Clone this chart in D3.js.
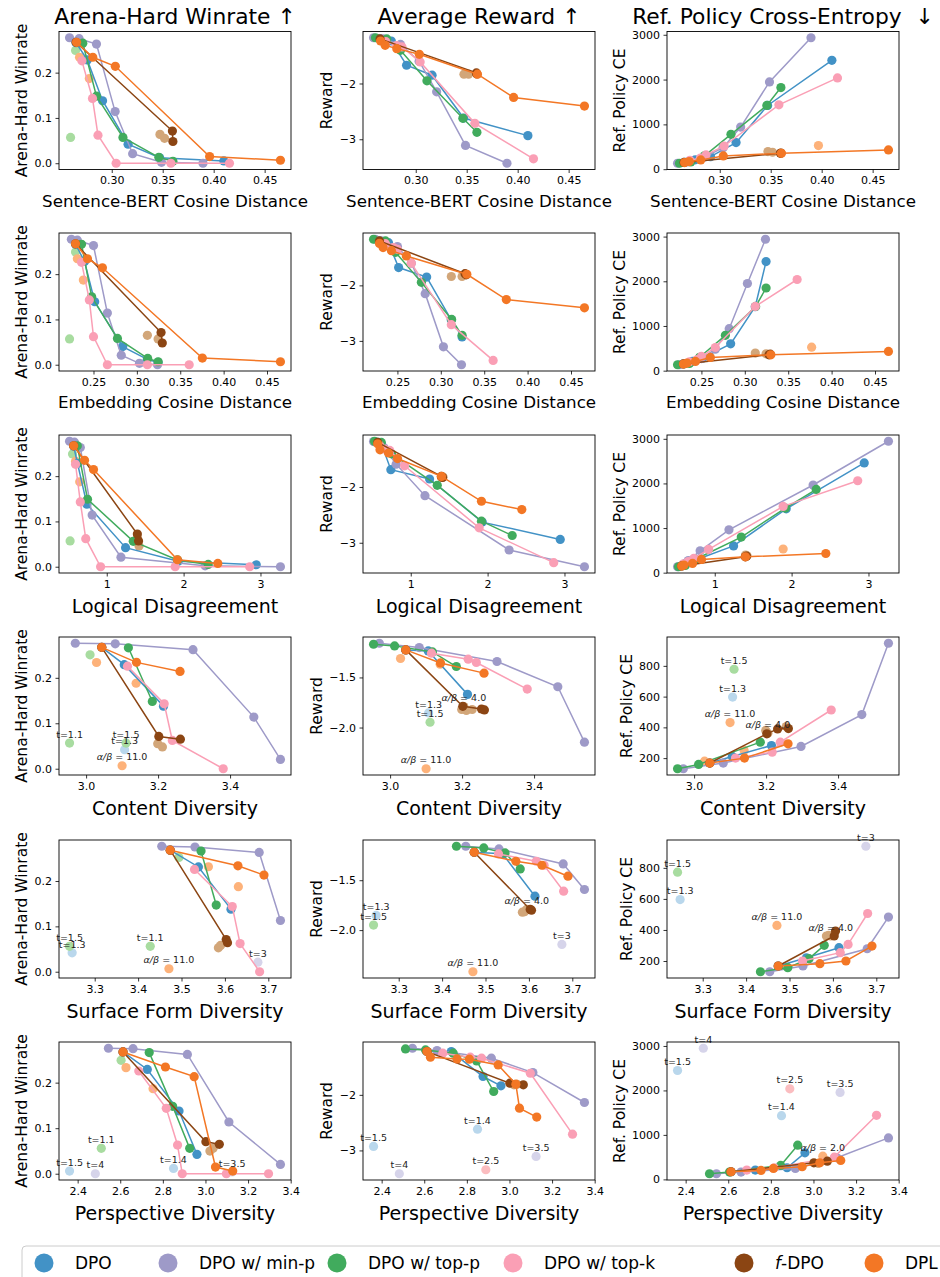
<!DOCTYPE html>
<html><head><meta charset="utf-8">
<script src="https://cdn.jsdelivr.net/npm/d3@7"></script>
<style>body{margin:0;background:#fff;} svg{display:block;font-family:"DejaVu Sans",sans-serif;} text{white-space:pre;}</style>
</head><body><svg id="c" width="940" height="1277"></svg>
<script>
// ---------------- data ----------------
const seriesNames = ["DPO", "DPO w/ min-p", "DPO w/ top-p", "DPO w/ top-k", "f-DPO", "DPL"];
const seriesColors = ["#4292c6", "#9e9ac8", "#41ab5d", "#fa9fb5", "#8b4513", "#f37725"];
const fadedColors = ["#b9d7ec", "#d6d4ea", "#a8dca0", "#fbbdc0", "#d2a679", "#fdb27a"];
const colTitles = ["Arena-Hard Winrate \u2191", "Average Reward \u2191", "Ref. Policy Cross-Entropy  \u2193"];
const colYLabels = ["Arena-Hard Winrate", "Reward", "Ref. Policy CE"];
const winTicks = [0.0, 0.1, 0.2];

// each point: [x, winrate, reward, ref-CE]; null = not drawn in that column
const sbertLines = [
  [[0.265,0.266,-1.20,150],[0.276,0.228,-1.238,210],[0.291,0.138,-1.673,280],[0.316,0.042,-1.851,593],[0.347,0.012,-2.62,1422],[0.410,0.005,-2.935,2430]],
  [[0.2586,0.277,-1.18,133],[0.268,0.275,-1.20,160],[0.285,0.263,-1.30,270],[0.3033,0.114,-1.60,480],[0.3205,0.021,-2.15,940],[0.3488,0.002,-3.11,1948],[0.3895,0.0,-3.43,2933]],
  [[0.2605,null,-1.18,133],[0.2716,0.265,-1.20,160],[0.285,0.148,-1.405,300],[0.311,0.057,-1.952,778],[0.3462,0.013,-2.625,1422],[0.360,0.0044,-2.875,1822]],
  [[0.2707,0.226,-1.25,200],[0.2811,0.143,-1.32,250],[0.2865,0.062,-1.345,318],[0.3043,0.0,-1.613,518],[0.358,0.0,-2.714,1437],[0.4155,0.0,-3.351,2037]],
  [[0.265,0.267,-1.20,150],[0.3595,0.071,-1.81,355],[0.3600,0.048,-1.83,360]],
  [[0.2655,0.267,-1.238,148],[0.2700,null,-1.315,170],[0.2814,0.234,-1.375,207],[0.3035,0.214,-1.476,296],[0.3605,null,-1.833,355],[0.3960,0.0147,-2.25,null],[0.4655,0.0066,-2.405,430]]
];
// faded: [series, x, winrate, reward, CE, label col1, label col2, label col3]
const sbertFaded = [
  [2,0.2645,0.249,null,null,"","",""],[2,0.2596,0.057,null,null,"","",""],
  [4,0.3473,0.0637,-1.833,393,"","",""],[4,0.3518,0.055,-1.833,378,"","",""],
  [5,0.2684,0.234,null,null,"","",""],[5,0.278,0.187,null,null,"","",""],[5,0.3968,null,null,526,"","",""]
];
const embedLines = [
  [[0.2293,0.266,-1.20,150],[0.2397,0.228,-1.232,210],[0.2514,0.139,-1.679,280],[0.2837,0.040,-1.851,600],[0.312,0.012,-2.62,1430],[0.3245,0.005,-2.929,2440]],
  [[0.2245,0.277,-1.17,133],[0.2314,0.275,-1.20,160],[0.250,0.263,-1.30,270],[0.266,0.114,-1.60,480],[0.282,0.021,-2.149,940],[0.303,0.003,-3.107,1950],[0.3238,0.0,-3.429,2940]],
  [[0.2225,null,-1.17,133],[0.2362,0.266,-1.20,160],[0.2479,0.150,-1.405,300],[0.2776,0.058,-1.946,790],[0.3125,0.014,-2.613,1437],[0.3245,0.0066,-2.90,1850]],
  [[0.2362,0.226,-1.25,200],[0.2452,0.143,-1.32,250],[0.250,0.062,-1.351,318],[0.266,0.0,-1.601,518],[0.3121,0.0,-2.708,1437],[0.3603,0.0,-3.351,2040]],
  [[0.2293,0.267,-1.20,150],[0.3279,0.071,-1.79,355],[0.3293,0.048,-1.81,370]],
  [[0.2293,0.267,-1.244,148],[0.2335,null,-1.32,170],[0.2431,0.234,-1.375,207],[0.2603,0.214,-1.47,296],[0.3300,null,-1.80,355],[0.3755,0.0147,-2.256,null],[0.4655,0.0066,-2.405,430]]
];
const embedFaded = [
  [2,0.2293,0.249,null,null,"","",""],[2,0.2224,0.057,null,null,"","",""],
  [4,0.3121,0.065,-1.84,393,"","",""],[4,0.3245,0.057,-1.84,378,"","",""],
  [5,0.2314,0.234,null,null,"","",""],[5,0.2383,0.187,null,null,"","",""],[5,0.377,null,null,526,"","",""]
];
const logicLines = [
  [[0.57,0.266,-1.20,150],[0.62,0.228,-1.235,210],[0.741,0.138,-1.69,280],[1.245,0.042,-1.857,600],[1.93,0.012,-2.63,1430],[2.945,0.0044,-2.94,2460]],
  [[0.516,0.277,-1.185,133],[0.58,0.275,-1.20,160],[0.656,0.263,-1.30,270],[0.81,0.114,-1.59,490],[1.185,0.021,-2.155,960],[2.28,0.002,-3.13,1965],[3.26,0.0,-3.43,2945]],
  [[0.529,null,-1.18,133],[0.617,0.267,-1.20,160],[0.75,0.149,-1.405,300],[1.345,0.056,-1.97,798],[1.92,0.015,-2.613,1448],[2.32,0.005,-2.87,1866]],
  [[0.594,0.226,-1.25,200],[0.656,0.143,-1.32,250],[0.727,0.062,-1.345,318],[0.92,0.0,-1.62,522],[1.89,0.0,-2.732,1485],[2.86,0.0,-3.357,2060]],
  [[0.57,0.267,-1.20,150],[1.398,0.072,-1.81,355],[1.414,0.057,-1.83,370]],
  [[0.57,0.267,-1.226,148],[0.60,null,-1.333,170],[0.711,0.235,-1.39,207],[0.828,0.2146,-1.49,296],[1.40,null,-1.81,355],[1.92,0.0154,-2.256,null],[2.445,0.0073,-2.405,430]]
];
const logicFaded = [
  [2,0.555,0.249,null,null,"","",""],[2,0.523,0.057,null,null,"","",""],
  [4,1.40,0.064,-1.83,393,"","",""],[4,1.42,0.046,-1.82,378,"","",""],
  [5,0.594,0.233,null,null,"","",""],[5,0.648,0.1875,null,null,"","",""],[5,1.89,null,null,530,"","",""]
];
const contentLines = [
  [[3.0435,0.267,-1.225,168],[3.106,0.229,-1.235,211],[3.215,0.1377,-1.669,282]],
  [[2.970,0.276,-1.159,131],[3.081,0.2747,-1.202,168],[3.297,0.262,-1.341,276],[3.466,0.1136,-1.593,483],[3.540,0.0205,-2.146,947]],
  [[2.954,null,-1.169,131],[3.0125,null,-1.185,159],[3.1175,0.266,-1.245,null],[3.184,0.148,-1.391,304]],
  [[3.115,0.2256,-1.258,200],[3.217,0.143,-1.318,239],[3.2396,0.0623,-1.351,304],[3.381,0.0,-1.616,513]],
  [[3.0435,0.267,-1.225,168],[3.202,0.071,-1.788,358],[3.232,null,null,390],[3.254,null,-1.815,null],[3.262,0.065,-1.824,392]],
  [[3.0435,0.267,-1.225,168],[3.140,0.234,-1.355,200],[3.261,0.214,-1.457,293]]
];
const contentFaded = [
  [0,3.107,0.042,-1.854,597,"t=1.3","t=1.3","t=1.3"],
  [2,2.954,0.0564,null,null,"t=1.1","",""],
  [2,3.011,0.2505,null,null,"","",""],
  [2,3.111,0.0564,-1.947,778,"t=1.5","t=1.5","t=1.5"],
  [4,3.199,0.055,-1.82,380,"","",""],[4,3.212,0.048,-1.83,null,"","",""],
  [4,3.228,null,-1.82,null,"","",""],[4,3.256,null,null,405,"","",""],
  [4,3.205,null,-1.79,362,"","\u03b1/\u03b2 = 4.0","\u03b1/\u03b2 = 4.0"],
  [5,3.029,0.2337,-1.311,180,"","",""],[5,3.139,0.188,-1.368,250,"","",""],
  [5,3.100,0.0066,-2.411,431,"\u03b1/\u03b2 = 11.0","\u03b1/\u03b2 = 11.0","\u03b1/\u03b2 = 11.0"]
];
const surfaceLines = [
  [[3.474,0.268,-1.22,168],[3.539,0.231,-1.235,221],[3.614,0.138,-1.66,286]],
  [[3.4545,0.2766,-1.16,131],[3.531,0.275,-1.187,168],[3.679,0.263,-1.337,279],[3.728,0.113,-1.593,483]],
  [[3.433,null,-1.16,131],[3.496,null,-1.177,157],[3.545,0.266,-1.227,215],[3.58,0.147,-1.387,301]],
  [[3.530,0.2255,-1.237,200],[3.617,0.1438,-1.31,254],[3.635,0.062,-1.35,307],[3.680,0.0,-1.61,506]],
  [[3.474,0.268,-1.22,168],[3.603,0.071,-1.793,361],[3.606,0.064,-1.80,393]],
  [[3.474,0.268,-1.22,168],[3.570,null,-1.31,183],[3.630,0.2336,-1.35,200],[3.690,0.213,-1.46,296]]
];
const surfaceFaded = [
  [0,3.248,0.0416,-1.853,596,"t=1.3","t=1.3","t=1.3"],
  [1,3.676,0.021,-2.143,939,"t=3","t=3","t=3"],
  [2,3.428,0.056,null,null,"t=1.1","",""],
  [2,3.494,0.252,null,null,"","",""],
  [2,3.242,0.056,-1.95,772,"t=1.5","t=1.5","t=1.5"],
  [4,3.585,0.0526,-1.82,361,"","",""],[4,3.59,0.058,-1.815,365,"","",""],
  [4,3.595,null,-1.793,361,"","\u03b1/\u03b2 = 4.0","\u03b1/\u03b2 = 4.0"],
  [5,3.562,0.2314,null,null,"","",""],[5,3.631,0.1876,null,null,"","",""],
  [5,3.471,0.0066,-2.417,429,"\u03b1/\u03b2 = 11.0","\u03b1/\u03b2 = 11.0","\u03b1/\u03b2 = 11.0"]
];
const perspLines = [
  [[2.613,0.2674,-1.222,172],[2.727,0.229,-1.222,209],[2.876,0.1377,-1.67,261],[2.960,0.0425,-1.838,597]],
  [[2.5445,0.2755,-1.162,127],[2.660,0.2747,-1.204,164],[2.915,0.262,-1.341,246],[3.110,0.1136,-1.599,485],[3.352,0.0205,-2.138,933]],
  [[2.512,null,-1.174,127],[2.606,null,-1.192,164],[2.736,0.266,-1.25,null],[2.846,0.148,-1.389,313],[2.926,0.0557,-1.94,769]],
  [[2.687,0.2256,-1.251,209],[2.816,0.1436,-1.323,260],[2.869,0.063,-1.341,null],[2.891,0.0,null,null],[3.098,0.0,-1.611,500],[3.296,0.0,-2.707,1440]],
  [[2.613,0.2674,-1.222,172],[3.002,0.0703,-1.79,373],[3.065,0.0645,-1.82,410]],
  [[2.613,0.2674,-1.222,172],[2.629,null,-1.323,null],[2.754,null,-1.353,201],[2.812,0.2344,-1.359,246],[2.947,0.2132,-1.461,284],[3.030,null,-1.808,373],[3.047,0.0147,-2.24,null],[3.128,0.0059,-2.40,425]]
];
const perspFaded = [
  [0,2.362,0.0059,-2.928,2448,"t=1.5","t=1.5","t=1.5"],
  [0,2.850,0.0117,-2.617,1433,"t=1.4","t=1.4","t=1.4"],
  [1,2.483,0.0,-3.419,2948,"t=4","t=4","t=4"],
  [1,3.125,0.004,-3.108,1955,"t=3.5","t=3.5","t=3.5"],
  [2,2.511,0.0557,null,null,"t=1.1","",""],
  [2,2.604,0.249,null,null,"","",""],
  [3,2.889,null,-3.347,2037,"","t=2.5","t=2.5"],
  [4,3.021,0.0498,-1.82,360,"","",""],[4,3.036,0.0557,-1.81,null,"","",""],
  [5,2.627,0.233,null,null,"","",""],[5,2.754,0.1868,null,null,"","",""],
  [5,3.044,null,null,522,"","","\u03b1/\u03b2 = 2.0"]
];

const sbertTicks = [0.30, 0.35, 0.40, 0.45];
const embedTicks = [0.25, 0.30, 0.35, 0.40, 0.45];
const logicTicks = [1, 2, 3];
const contentTicks = [3.0, 3.2, 3.4];
const surfaceTicks = [3.3, 3.4, 3.5, 3.6, 3.7];
const perspTicks = [2.4, 2.6, 2.8, 3.0, 3.2, 3.4];
const rewardTicksInt = [-3, -2];
const rewardTicksHalf = [-2.0, -1.5];
const ceTicksBig = [0, 1000, 2000, 3000];
const ceTicksSmall = [200, 400, 600, 800];

const rows = [
  {lines: sbertLines, faded: sbertFaded, xlab: "Sentence-BERT Cosine Distance", xt: sbertTicks, xf: ".2f", rt: rewardTicksInt, rf: "d", ct: ceTicksBig, big: false},
  {lines: embedLines, faded: embedFaded, xlab: "Embedding Cosine Distance", xt: embedTicks, xf: ".2f", rt: rewardTicksInt, rf: "d", ct: ceTicksBig, big: false},
  {lines: logicLines, faded: logicFaded, xlab: "Logical Disagreement", xt: logicTicks, xf: "d", rt: rewardTicksInt, rf: "d", ct: ceTicksBig, big: true},
  {lines: contentLines, faded: contentFaded, xlab: "Content Diversity", xt: contentTicks, xf: ".1f", rt: rewardTicksHalf, rf: ".1f", ct: ceTicksSmall, big: true},
  {lines: surfaceLines, faded: surfaceFaded, xlab: "Surface Form Diversity", xt: surfaceTicks, xf: ".1f", rt: rewardTicksHalf, rf: ".1f", ct: ceTicksSmall, big: true},
  {lines: perspLines, faded: perspFaded, xlab: "Perspective Diversity", xt: perspTicks, xf: ".1f", rt: rewardTicksInt, rf: "d", ct: ceTicksBig, big: true}
];

// ---------------- layout ----------------
const svg = d3.select("#c");
const colLeft = [59, 363, 667];
const rowTop = [31.5, 233, 435, 637, 840, 1042];
const PW = 232, PH = 138;
const R = 4.6;

function pad(ext) { const d = ext[1] - ext[0]; return [ext[0] - 0.05 * d, ext[1] + 0.05 * d]; }

function addLabel(sel, txt) {
  if (txt.startsWith("\u03b1/\u03b2")) {
    sel.append("tspan").attr("font-style", "italic").text("\u03b1/\u03b2");
    sel.append("tspan").text(txt.slice(3));
  } else sel.text(txt);
}

// column titles
colTitles.forEach((t, ci) => {
  svg.append("text").attr("x", colLeft[ci] + PW / 2).attr("y", 24)
    .attr("text-anchor", "middle").attr("font-size", 21.8).attr("xml:space", "preserve").text(t);
});

rows.forEach((row, ri) => {
  for (let ci = 0; ci < 3; ci++) {
    const vi = ci + 1;
    const g = svg.append("g").attr("transform", `translate(${colLeft[ci]},${rowTop[ri]})`);
    const linePts = row.lines.map(s => s.filter(p => p[vi] != null));
    const fadedPts = row.faded.filter(f => f[vi + 1] != null);
    const xs = linePts.flat().map(p => p[0]).concat(fadedPts.map(f => f[1]));
    const ys = linePts.flat().map(p => p[vi]).concat(fadedPts.map(f => f[vi + 1]));
    const x = d3.scaleLinear().domain(pad(d3.extent(xs))).range([0, PW]);
    const y = d3.scaleLinear().domain(pad(d3.extent(ys))).range([PH, 0]);

    // axes
    const xa = d3.axisBottom(x).tickValues(row.xt).tickFormat(d3.format(row.xf)).tickSize(3.5).tickPadding(3.5);
    const yTicks = ci === 0 ? winTicks : (ci === 1 ? row.rt : row.ct);
    const yFmt = ci === 0 ? d3.format(".1f") : (ci === 1 ? d3.format(row.rf) : d3.format("d"));
    const ya = d3.axisLeft(y).tickValues(yTicks).tickFormat(yFmt).tickSize(3.5).tickPadding(3.5);
    const gx = g.append("g").attr("transform", `translate(0,${PH})`).call(xa);
    const gy = g.append("g").call(ya);
    [gx, gy].forEach(a => {
      a.select(".domain").remove();
      a.selectAll("text").attr("font-size", 11).attr("font-family", "DejaVu Sans").attr("fill", "#000");
      a.selectAll("line").attr("stroke", "#000").attr("stroke-width", 0.8);
    });

    // faded points
    g.append("g").selectAll("circle").data(fadedPts).join("circle")
      .attr("cx", f => x(f[1])).attr("cy", f => y(f[vi + 1])).attr("r", R)
      .attr("fill", f => fadedColors[f[0]]);

    // series
    const line = d3.line().x(p => x(p[0])).y(p => y(p[vi]));
    linePts.forEach((pts, si) => {
      if (!pts.length) return;
      g.append("path").attr("d", line(pts)).attr("fill", "none")
        .attr("stroke", seriesColors[si]).attr("stroke-width", 1.5);
      g.append("g").selectAll("circle").data(pts).join("circle")
        .attr("cx", p => x(p[0])).attr("cy", p => y(p[vi])).attr("r", R)
        .attr("fill", seriesColors[si]);
    });

    // labels
    fadedPts.filter(f => f[5 + ci]).forEach(f => {
      const t = g.append("text").attr("x", x(f[1])).attr("y", y(f[vi + 1]) - 5.3)
        .attr("text-anchor", "middle").attr("font-size", 9.5).attr("fill", "#222");
      addLabel(t, f[5 + ci]);
    });

    // frame
    g.append("rect").attr("width", PW).attr("height", PH).attr("fill", "none")
      .attr("stroke", "#000").attr("stroke-width", 0.9);

    // x label
    g.append("text").attr("x", PW / 2).attr("y", PH + (row.big ? 40 : 37.2))
      .attr("text-anchor", "middle").attr("font-size", row.big ? 19 : 16.7).text(row.xlab);

    // y label
    const bb = gy.node().getBBox();
    g.append("text").attr("transform", `translate(${bb.x - 7.5},${PH / 2}) rotate(-90)`)
      .attr("text-anchor", "middle").attr("font-size", 15.5).text(colYLabels[ci]);
  }
});

// legend
const legX = [44, 168, 337, 513, 744, 874];
const lg = svg.append("g");
lg.append("rect").attr("x", 22).attr("y", 1246).attr("width", 940).attr("height", 60).attr("rx", 4)
  .attr("fill", "#fff").attr("stroke", "#cccccc").attr("stroke-width", 1);
seriesNames.forEach((n, i) => {
  lg.append("circle").attr("cx", legX[i]).attr("cy", 1263).attr("r", 9.5).attr("fill", seriesColors[i]);
  const t = lg.append("text").attr("x", legX[i] + 31).attr("y", 1269).attr("font-size", 17);
  if (n === "f-DPO") {
    t.append("tspan").attr("font-style", "italic").text("f");
    t.append("tspan").text("-DPO");
  } else t.text(n);
});
</script>
</body></html>
